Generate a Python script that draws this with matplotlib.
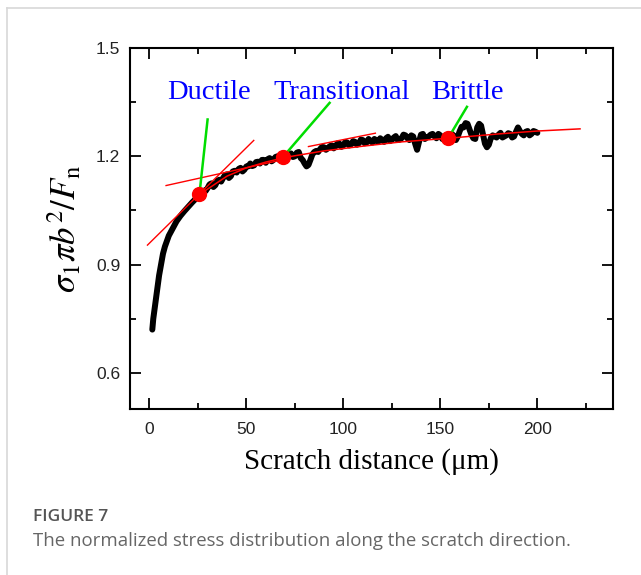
import matplotlib
matplotlib.use("Agg")
import matplotlib.pyplot as plt
from matplotlib.lines import Line2D

# ---- data ----
dist = [1.5, 2, 3, 4, 5, 6, 7, 8, 10, 12, 14, 16, 18, 20, 22, 24] + list(range(26, 201))
stress = [0.72, 0.75, 0.79, 0.83, 0.87, 0.90, 0.93, 0.95, 0.98, 1.00, 1.02, 1.035,
          1.048, 1.06, 1.072, 1.083,
          1.095, 1.103, 1.105, 1.104, 1.112, 1.122, 1.125, 1.115, 1.12, 1.132,
          1.135, 1.13, 1.14, 1.148, 1.15, 1.14, 1.145, 1.158, 1.16, 1.155,
          1.165, 1.168, 1.158, 1.163, 1.172, 1.172, 1.18, 1.173, 1.175, 1.184,
          1.185, 1.18, 1.19, 1.19, 1.182, 1.192, 1.195, 1.186, 1.19, 1.198,
          1.2, 1.19, 1.195, 1.205, 1.2, 1.196, 1.205, 1.208, 1.198, 1.2,
          1.21, 1.212, 1.195, 1.19, 1.18, 1.172, 1.176, 1.19, 1.205, 1.212,
          1.215, 1.212, 1.22, 1.226, 1.225, 1.218, 1.222, 1.228, 1.23, 1.222,
          1.228, 1.236, 1.235, 1.226, 1.23, 1.24, 1.238, 1.23, 1.233, 1.242,
          1.24, 1.232, 1.236, 1.246, 1.245, 1.236, 1.238, 1.248, 1.242, 1.238,
          1.248, 1.244, 1.24, 1.25, 1.245, 1.24, 1.25, 1.254, 1.242, 1.245,
          1.252, 1.256, 1.245, 1.246, 1.25, 1.26, 1.258, 1.25, 1.245, 1.258,
          1.255, 1.235, 1.218, 1.24, 1.26, 1.262, 1.248, 1.252, 1.255, 1.26,
          1.262, 1.255, 1.25, 1.262, 1.258, 1.248, 1.25, 1.258, 1.255, 1.25,
          1.262, 1.256, 1.245, 1.255, 1.27, 1.282, 1.28, 1.292, 1.29, 1.275,
          1.26, 1.25, 1.248, 1.28, 1.29, 1.285, 1.26, 1.235, 1.225, 1.232,
          1.25, 1.258, 1.255, 1.252, 1.26, 1.265, 1.252, 1.255, 1.258, 1.264,
          1.262, 1.252, 1.255, 1.268, 1.28, 1.27, 1.262, 1.258, 1.268, 1.27,
          1.258, 1.262, 1.27, 1.268, 1.265]

fit_x = [26, 40, 50, 60, 70, 90, 110, 130, 154, 180, 200, 222]
fit_y = [1.095, 1.145, 1.168, 1.184, 1.197, 1.215, 1.228, 1.24, 1.25, 1.262, 1.27, 1.276]

tangent_lines = [((-1, 53.8), (0.954, 1.244)),
                 ((8.6, 70), (1.119, 1.192)),
                 ((82, 116.5), (1.227, 1.264))]

region_names = ["Ductile", "Transitional", "Brittle"]
region_x = [9.1, 64.1, 145.2]
point_x = [25.8, 68.7, 154.0]
point_y = [1.095, 1.197, 1.250]
pointer_x = [30.0, 92.9, 163.7]
pointer_y = [1.302, 1.348, 1.337]

xticks = [0, 50, 100, 150, 200]
yticks = [0.6, 0.9, 1.2, 1.5]

# ---- figure ----
plt.rcParams['mathtext.fontset'] = 'stix'
fig = plt.figure(figsize=(6.41, 5.75), dpi=100)
ax = fig.add_axes([130/641, 1-409/575, (613-130)/641, (409-48)/575])

ax.plot(dist, stress, color='black', lw=4.3, solid_joinstyle='round',
        solid_capstyle='round', zorder=2)
ax.plot(fit_x, fit_y, color='red', lw=1.1, zorder=3)
for xs, ys in tangent_lines:
    ax.plot(xs, ys, color='red', lw=1.0, zorder=3)
for px, py, qx, qy in zip(point_x, point_y, pointer_x, pointer_y):
    ax.plot([px, qx], [py, qy], color='#00dd00', lw=1.8, zorder=4)
ax.plot(point_x, point_y, 'o', color='red', ms=10, zorder=5)
for name, tx in zip(region_names, region_x):
    ax.text(tx, 1.359, name, color='#0000ff', fontsize=20.5,
            family='Liberation Serif', va='baseline', ha='left')

ax.set_xlim(-10, 239)
ax.set_ylim(0.5, 1.5)
ax.set_xticks(xticks)
ax.set_xticks([25, 75, 125, 175, 225], minor=True)
ax.set_yticks(yticks)
ax.set_yticks([0.75, 1.05, 1.35], minor=True)
ax.set_yticklabels([f"{v:.1f}" for v in yticks])
ax.tick_params(which='both', direction='in', top=True, right=True,
               width=1.3, labelsize=12.5, labelcolor='#222222',
               labelfontfamily='Liberation Sans')
ax.tick_params(which='major', length=8)
ax.tick_params(which='minor', length=4.5)
ax.tick_params(axis='x', pad=9)
ax.tick_params(axis='y', pad=7)
for s in ax.spines.values():
    s.set_linewidth(1.5)

ax.set_xlabel('Scratch distance (\u03bcm)', family='Liberation Serif',
              fontsize=21, labelpad=8)
ax.set_ylabel(r'$\sigma_1\pi b^2/F_\mathrm{n}$', fontsize=25, labelpad=9)

# page frame and caption
fig.add_artist(Line2D([7/641, 1], [1-8/575, 1-8/575], color='#d8d8d8', lw=1.2))
fig.add_artist(Line2D([7/641, 7/641], [0, 1-8/575], color='#d8d8d8', lw=1.2))
fig.text(33/641, 1-517/575, 'FIGURE 7', family='Open Sans', fontsize=12.5,
         color='#555555', weight='semibold', va='center', ha='left')
fig.text(33/641, 1-541/575,
         'The normalized stress distribution along the scratch direction.',
         family='Open Sans', fontsize=13.4, color='#666666', va='center', ha='left')

fig.savefig('out.png', dpi=100)
